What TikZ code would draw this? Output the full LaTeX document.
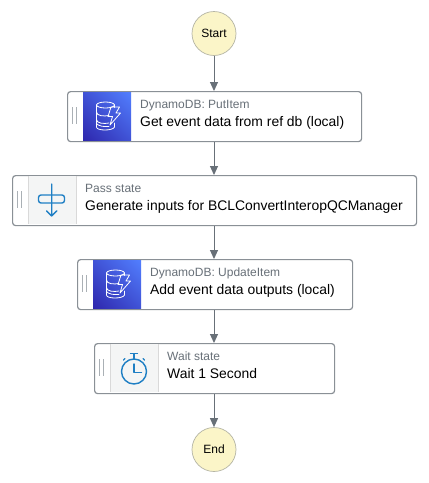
\documentclass[tikz,border=0pt]{standalone}
\usepackage{fontspec}
\setmainfont{Liberation Sans}
\usetikzlibrary{arrows.meta,positioning,shadings}
\definecolor{edgegray}{HTML}{8A9096}
\definecolor{arrowgray}{HTML}{687078}
\definecolor{termfill}{HTML}{FBF5C8}
\definecolor{termedge}{HTML}{B5B5A5}
\definecolor{iconbg}{HTML}{F4F5F5}
\definecolor{iconblue}{HTML}{1F7FC4}
\definecolor{subgray}{HTML}{687078}
\definecolor{dbdark}{HTML}{2E27AD}
\definecolor{dbmid}{HTML}{4053D6}
\definecolor{dblight}{HTML}{527FFF}
\definecolor{gripgray}{HTML}{AAB0B5}
\tikzset{
  x=1pt,y=-1pt,
  statebox/.style={draw=edgegray,line width=1.2pt,rounded corners=3pt,fill=white,inner sep=0pt,minimum height=50pt,anchor=north west},
  terminal/.style={circle,draw=termedge,line width=.7pt,fill=termfill,minimum size=44pt,inner sep=0pt,font=\fontsize{12}{14}\selectfont},
  flow/.style={draw=arrowgray,line width=1pt,-{Triangle[length=9pt,width=8pt]}},
  subtitle/.style={anchor=base west,text=subgray,inner sep=0pt,font=\fontsize{12}{14}\selectfont},
  maintitle/.style={anchor=base west,text=black,inner sep=0pt,font=\fontsize{13.9}{16}\selectfont},
  grip/.style={draw=gripgray,line width=.8pt},
  glyph/.style={draw=iconblue,line width=1.4pt,line cap=round,line join=round,fill=none},
  dbglyph/.style={draw=white,line width=.8pt,line join=round,line cap=round,fill=none},
}
\newcommand{\stateframe}[4]{% name, x, y, width
  \node[statebox,minimum width=#4pt] (#1) at (#2,#3) {};
  \draw[grip] (#2+5.5,#3+16) -- (#2+5.5,#3+33) (#2+9,#3+16) -- (#2+9,#3+33);
}
\newcommand{\dbicon}[2]{% icon left, top
  \shade[lower left=dbdark,upper right=dblight,upper left=dbmid,lower right=dbmid] (#1,#2) rectangle ++(48,48);
  \begin{scope}[shift={(#1,#2)}]
    \draw[dbglyph] (22.5,13) ellipse[x radius=9,y radius=3];
    \draw[dbglyph] (13.5,13) -- (13.5,35) .. controls (13.5,39) and (30,39) .. (31.5,35) -- (31.5,31);
    \draw[dbglyph] (13.5,20) .. controls (13.5,24) and (21,24.5) .. (26,23.5);
    \draw[dbglyph] (13.5,27.5) .. controls (13.5,31.5) and (21,32) .. (26,31);
    \draw[dbglyph] (13.5,31.5) .. controls (15,34) and (21,35) .. (26,34.5);
    \draw[dbglyph] (31.5,13) -- (31.5,15.5);
    \draw[dbglyph] (28,15) -- (36.5,15) -- (33,21) -- (37.5,21) -- (27,33) -- (29.5,24.5) -- (25,24.5) -- cycle;
  \end{scope}
}
\newcommand{\iconpanel}[2]{%
  \fill[iconbg] (#1,#2) rectangle ++(48,48);
  \draw[draw=white!85!black,line width=.5pt] (#1,#2) -- ++(0,48) (#1+48,#2) -- ++(0,48);
}
\begin{document}
\begin{tikzpicture}
\useasboundingbox (0,0) rectangle (429,483);
\fill[white] (0,0) rectangle (429,483);

\node[terminal] (start) at (214,33.5) {Start};
\node[terminal] (end) at (214,449.5) {End};

\stateframe{put}{67}{91}{294}
\dbicon{83}{92}
\node[subtitle] (putsub) at (140,108.5) {DynamoDB: PutItem};
\node[maintitle] (putmain) at (140,126) {Get event data from ref db (local)};

\stateframe{pass}{12}{175}{404}
\iconpanel{28}{176}
\begin{scope}[shift={(28,176)}]
  \draw[glyph,rounded corners=2.5pt] (10.5,19) rectangle (36.5,27);
  \draw[glyph] (23.7,8) -- (23.7,40) (18.5,34.8) -- (23.7,40) -- (28.9,34.8);
\end{scope}
\node[subtitle] (passsub) at (85,192.5) {Pass state};
\node[maintitle] (passmain) at (85,210) {Generate inputs for BCLConvertInteropQCManager};

\stateframe{upd}{77}{259}{275}
\dbicon{93}{260}
\node[subtitle] (updsub) at (150,276.5) {DynamoDB: UpdateItem};
\node[maintitle] (updmain) at (150,294) {Add event data outputs (local)};

\stateframe{wait}{94}{343}{240}
\iconpanel{110}{344}
\begin{scope}[shift={(110,344)}]
  \draw[glyph] (24,27.5) circle[radius=12.5];
  \draw[glyph] (24,10) -- (24,15);
  \draw[glyph] (20.5,9.5) -- (27.5,9.5);
  \draw[glyph] (13.5,16) -- (15,14.5) (34.5,16) -- (33,14.5);
  \draw[glyph] (24,20) -- (24,28.5) -- (31.5,28.5);
\end{scope}
\node[subtitle] (waitsub) at (167,360.5) {Wait state};
\node[maintitle] (waitmain) at (167,378) {Wait 1 Second};

\draw[flow] (start) -- (start|-put.north);
\draw[flow] (put.south-|start) -- (start|-pass.north);
\draw[flow] (pass.south-|start) -- (start|-upd.north);
\draw[flow] (upd.south-|start) -- (start|-wait.north);
\draw[flow] (wait.south-|start) -- (end);
\end{tikzpicture}
\end{document}
